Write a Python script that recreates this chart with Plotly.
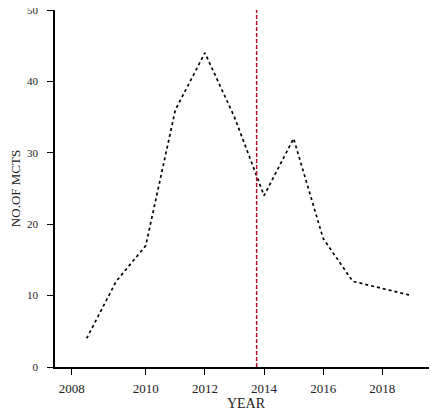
import plotly.graph_objects as go

years = [2008, 2009, 2010, 2011, 2012, 2013, 2014, 2015, 2016, 2017, 2018, 2019]
mcts = [4, 12, 17, 36, 44, 35, 24, 32, 18, 12, 11, 10]
marker_year = 2013.75
tick_vals = [2007.5, 2010, 2012, 2014, 2016, 2018]
tick_text = ["2008", "2010", "2012", "2014", "2016", "2018"]

fig = go.Figure()
fig.add_trace(go.Scatter(x=years, y=mcts, mode="lines",
                         line=dict(color="black", width=1.7, dash="dot"),
                         showlegend=False))
fig.add_trace(go.Scatter(x=[marker_year, marker_year], y=[0, 50], mode="lines",
                         line=dict(color="#b8102a", width=1.5, dash="4px,2px"),
                         showlegend=False))

font = dict(family="Liberation Serif, Times New Roman, serif", size=12, color="#222")
fig.update_layout(
    width=437, height=412,
    margin=dict(l=47, r=8, t=2, b=53),
    paper_bgcolor="white", plot_bgcolor="white",
    font=font,
    xaxis=dict(range=[2006.93, 2019.85], tickvals=tick_vals, ticktext=tick_text,
               automargin=False, ticklabeloverflow="allow",
               showgrid=False, zeroline=False, showline=True, linecolor="black",
               linewidth=1.5, ticks="outside", ticklen=6, tickcolor="black",
               tickfont=dict(size=13), ticklabelstandoff=3,
               title=dict(text="YEAR", standoff=0, font=dict(size=14))),
    yaxis=dict(range=[0, 50], tickvals=[0, 10, 20, 30, 40, 50],
               automargin=False, ticklabeloverflow="allow",
               showgrid=False, zeroline=False, showline=True, linecolor="black",
               linewidth=1.5, ticks="outside", ticklen=6, tickcolor="black",
               tickfont=dict(size=11), ticklabelstandoff=7,
               title=dict(text="NO.OF MCTS", standoff=21, font=dict(size=13))),
)
fig.write_html("out.html")
